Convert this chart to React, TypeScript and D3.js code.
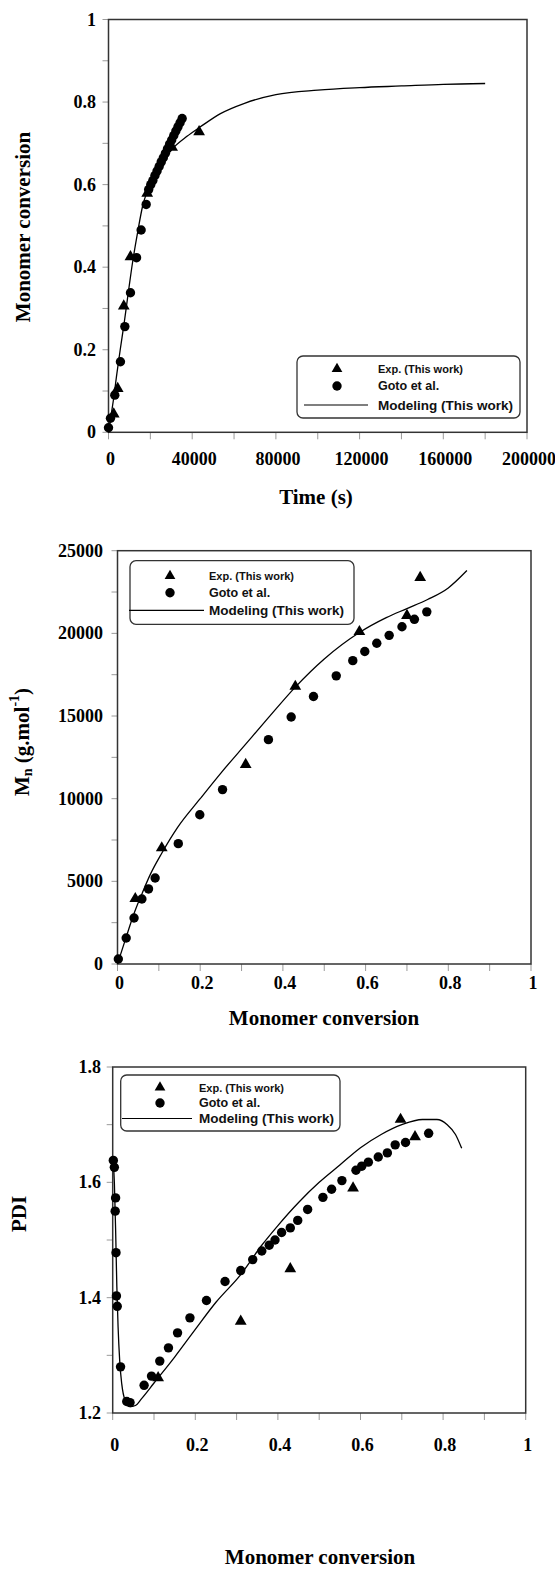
import React from 'react';
import * as d3 from 'd3';

type Pt = [number, number];

// ---- panel 1: conversion vs time ----
const timeExp: Pt[] = [
  [2500, 0.044], [4400, 0.106], [7300, 0.306], [10500, 0.425],
  [18500, 0.579], [30400, 0.69], [43300, 0.728],
];
const timeGoto: Pt[] = [
  [0, 0.011], [950, 0.034], [3000, 0.09], [5700, 0.171], [7800, 0.256],
  [10500, 0.338], [13400, 0.423], [15600, 0.49], [18000, 0.552],
  [19200, 0.588], [20200, 0.6], [21200, 0.61], [22200, 0.622], [23200, 0.633],
  [24200, 0.644], [25200, 0.655], [26200, 0.665], [27200, 0.676], [28200, 0.687],
  [29200, 0.698], [30200, 0.708], [31200, 0.719], [32200, 0.73], [33200, 0.74],
  [34200, 0.75], [35200, 0.76],
];
const timeModel: Pt[] = [
  [0, 0], [1200, 0.04], [2400, 0.08], [4000, 0.142], [5600, 0.2], [7500, 0.265],
  [9500, 0.34], [11600, 0.415], [14000, 0.487], [16400, 0.55], [18600, 0.585],
  [21600, 0.62], [25600, 0.653], [30400, 0.686], [37500, 0.717], [43900, 0.74],
  [53500, 0.772], [65000, 0.797], [80000, 0.818], [100000, 0.829], [120000, 0.835],
  [140000, 0.839], [160000, 0.843], [180000, 0.845],
];
const timeTicks = [0, 40000, 80000, 120000, 160000, 200000];
const convTicks = [0, 0.2, 0.4, 0.6, 0.8, 1];

// ---- panel 2: Mn vs conversion ----
const mnExp: Pt[] = [
  [0.043, 3950], [0.107, 7020], [0.31, 12060], [0.43, 16790],
  [0.585, 20100], [0.7, 21070], [0.732, 23380],
];
const mnGoto: Pt[] = [
  [0.002, 300], [0.021, 1570], [0.04, 2780], [0.059, 3930], [0.075, 4540],
  [0.091, 5200], [0.147, 7280], [0.199, 9030], [0.254, 10550], [0.365, 13570],
  [0.42, 14940], [0.474, 16180], [0.529, 17430], [0.569, 18350], [0.598, 18900],
  [0.627, 19400], [0.657, 19880], [0.688, 20400], [0.718, 20850], [0.748, 21300],
];
const mnModel: Pt[] = [
  [0, 0], [0.02, 1550], [0.04, 3050], [0.06, 4300], [0.08, 5450], [0.107, 6700],
  [0.145, 8250], [0.2, 10000], [0.25, 11550], [0.31, 13300], [0.365, 14900],
  [0.43, 16750], [0.5, 18450], [0.585, 20050], [0.65, 20950], [0.7, 21500],
  [0.75, 22050], [0.8, 22750], [0.845, 23800],
];
const mnTicks = [0, 5000, 10000, 15000, 20000, 25000];

// ---- panel 3: PDI vs conversion ----
const pdiExp: Pt[] = [
  [0.11, 1.261], [0.31, 1.359], [0.43, 1.45], [0.582, 1.59], [0.697, 1.709], [0.732, 1.679],
];
const pdiGoto: Pt[] = [
  [0.0015, 1.638], [0.004, 1.626], [0.007, 1.573], [0.006, 1.55], [0.008, 1.478],
  [0.009, 1.403], [0.011, 1.385], [0.019, 1.28], [0.034, 1.22], [0.042, 1.218],
  [0.076, 1.248], [0.094, 1.264], [0.114, 1.29], [0.135, 1.313], [0.157, 1.339],
  [0.187, 1.365], [0.227, 1.395], [0.272, 1.428], [0.31, 1.447], [0.339, 1.466],
  [0.361, 1.481], [0.379, 1.491], [0.393, 1.5], [0.409, 1.513], [0.43, 1.521],
  [0.448, 1.534], [0.472, 1.553], [0.509, 1.574], [0.53, 1.588], [0.555, 1.603],
  [0.589, 1.621], [0.603, 1.628], [0.619, 1.635], [0.643, 1.644], [0.665, 1.651],
  [0.684, 1.665], [0.709, 1.669], [0.765, 1.685],
];
const pdiModel: Pt[] = [
  [0.001, 1.64], [0.004, 1.6], [0.007, 1.52], [0.01, 1.42], [0.013, 1.35],
  [0.017, 1.29], [0.022, 1.25], [0.03, 1.222], [0.042, 1.211], [0.055, 1.213],
  [0.07, 1.225], [0.1, 1.252], [0.15, 1.297], [0.2, 1.345], [0.25, 1.392],
  [0.31, 1.44], [0.36, 1.49], [0.4, 1.525], [0.45, 1.565], [0.5, 1.6],
  [0.55, 1.63], [0.6, 1.66], [0.65, 1.683], [0.7, 1.7], [0.75, 1.709],
  [0.785, 1.709], [0.81, 1.7], [0.83, 1.683], [0.845, 1.659],
];
const pdiTicks = [1.2, 1.4, 1.6, 1.8];

const legendLabels = ['Exp. (This work)', 'Goto et al.', 'Modeling (This work)'];

const SERIF = '"Liberation Serif", "Times New Roman", serif';
const SANS = '"Liberation Sans", Arial, sans-serif';

const fmt = (v: number) => String(+v.toFixed(2));

interface Legend { x0: number; y0: number; x1: number; y1: number; rows: number[]; symX: number; lx0: number; lx1: number; tx: number; }

interface PanelProps {
  box: { l: number; r: number; t: number; b: number };
  xDomain: Pt; yDomain: Pt;
  xTicks: number[]; xMinor: number[]; yTicks: number[]; yMinor: number[];
  xLabY: number; yLabX: number;
  xTitle: string; xTitleX: number; xTitleY: number;
  yTitle: React.ReactNode; yTitleX: number; yTitleY: number;
  legend: Legend;
  exp: Pt[]; goto: Pt[]; model: Pt[];
}

const triPath = d3.symbol(d3.symbolTriangle, 60)()!;

function Panel(p: PanelProps) {
  const x = d3.scaleLinear().domain(p.xDomain).range([p.box.l, p.box.r]);
  const y = d3.scaleLinear().domain(p.yDomain).range([p.box.b, p.box.t]);
  const line = d3.line<Pt>().x(d => x(d[0])).y(d => y(d[1])).curve(d3.curveMonotoneX);
  const lg = p.legend;
  return (
    <g>
      {p.xMinor.map(v => (
        <line key={'xm' + v} x1={x(v)} x2={x(v)} y1={p.box.b} y2={p.box.b + 7} stroke="#9a9a9a" strokeWidth={1} />
      ))}
      {p.yMinor.map(v => (
        <line key={'ym' + v} x1={p.box.l - 6} x2={p.box.l} y1={y(v)} y2={y(v)} stroke="#9a9a9a" strokeWidth={1} />
      ))}
      <rect x={p.box.l} y={p.box.t} width={p.box.r - p.box.l} height={p.box.b - p.box.t}
        fill="none" stroke="#333" strokeWidth={1.5} />
      {p.xTicks.map(v => (
        <text key={'xt' + v} x={x(v) + 2} y={p.xLabY} textAnchor="middle" dominantBaseline="central"
          fontFamily={SERIF} fontWeight="bold" fontSize={18}>{fmt(v)}</text>
      ))}
      {p.yTicks.map(v => (
        <text key={'yt' + v} x={p.yLabX} y={y(v)} textAnchor="end" dominantBaseline="central"
          fontFamily={SERIF} fontWeight="bold" fontSize={18}>{fmt(v)}</text>
      ))}
      <text x={p.xTitleX} y={p.xTitleY} textAnchor="middle" dominantBaseline="central"
        fontFamily={SERIF} fontWeight="bold" fontSize={21}>{p.xTitle}</text>
      <text transform={`translate(${p.yTitleX},${p.yTitleY}) rotate(-90)`} textAnchor="middle" dominantBaseline="central"
        fontFamily={SERIF} fontWeight="bold" fontSize={21}>{p.yTitle}</text>

      <path d={line(p.model)!} fill="none" stroke="#000" strokeWidth={1.3} />
      {p.goto.map((d, i) => (
        <circle key={'g' + i} cx={x(d[0])} cy={y(d[1])} r={4.7} fill="#000" />
      ))}
      {p.exp.map((d, i) => (
        <path key={'e' + i} d={triPath} transform={`translate(${x(d[0])},${y(d[1])})`} fill="#000" />
      ))}

      <rect x={lg.x0} y={lg.y0} width={lg.x1 - lg.x0} height={lg.y1 - lg.y0} rx={6}
        fill="#fff" stroke="#333" strokeWidth={1.3} />
      <path d={d3.symbol(d3.symbolTriangle, 50)()!} transform={`translate(${lg.symX},${lg.rows[0]})`} fill="#000" />
      <circle cx={lg.symX} cy={lg.rows[1]} r={4.7} fill="#000" />
      <line x1={lg.lx0} x2={lg.lx1} y1={lg.rows[2]} y2={lg.rows[2]} stroke="#000" strokeWidth={1.2} />
      {legendLabels.map((t, i) => (
        <text key={t} x={lg.tx} y={lg.rows[i]} dominantBaseline="central" fontFamily={SANS}
          fontWeight="bold" fontSize={i === 0 ? 11 : i === 1 ? 12.5 : 13.5} fill="#111">{t}</text>
      ))}
    </g>
  );
}

export default function App() {
  const convMinor = d3.range(0, 1.0001, 0.1);
  return (
    <svg width={555} height={1573} style={{ position: 'absolute', left: 0, top: 0, background: '#fff' }}>
      <Panel
        box={{ l: 108.5, r: 527, t: 19.5, b: 432.3 }}
        xDomain={[0, 200000]} yDomain={[0, 1]}
        xTicks={timeTicks} xMinor={d3.range(0, 200001, 20000)}
        yTicks={convTicks} yMinor={convMinor}
        xLabY={459} yLabX={96}
        xTitle="Time (s)" xTitleX={316} xTitleY={497}
        yTitle="Monomer conversion" yTitleX={23} yTitleY={227}
        legend={{ x0: 297, y0: 356, x1: 520, y1: 418, rows: [369, 386, 405], symX: 337, lx0: 304, lx1: 368, tx: 378 }}
        exp={timeExp} goto={timeGoto} model={timeModel}
      />
      <Panel
        box={{ l: 117.5, r: 531, t: 550.7, b: 964 }}
        xDomain={[0, 1]} yDomain={[0, 25000]}
        xTicks={convTicks} xMinor={convMinor}
        yTicks={mnTicks} yMinor={d3.range(0, 25001, 2500)}
        xLabY={983} yLabX={103}
        xTitle="Monomer conversion" xTitleX={324} xTitleY={1018}
        yTitle={<>
          <tspan>M</tspan>
          <tspan dy={5} fontSize={14}>n</tspan>
          <tspan dy={-5}> (g.mol</tspan>
          <tspan dy={-8} fontSize={14}>-1</tspan>
          <tspan dy={8}>)</tspan>
        </>}
        yTitleX={22} yTitleY={742}
        legend={{ x0: 130, y0: 560.7, x1: 354, y1: 624.3, rows: [576, 592.7, 610.3], symX: 170, lx0: 129, lx1: 204, tx: 209 }}
        exp={mnExp} goto={mnGoto} model={mnModel}
      />
      <Panel
        box={{ l: 112.7, r: 525.7, t: 1067, b: 1413 }}
        xDomain={[0, 1]} yDomain={[1.2, 1.8]}
        xTicks={convTicks} xMinor={convMinor}
        yTicks={pdiTicks} yMinor={d3.range(1.2, 1.8001, 0.1)}
        xLabY={1445} yLabX={101}
        xTitle="Monomer conversion" xTitleX={320} xTitleY={1557}
        yTitle="PDI" yTitleX={19} yTitleY={1214}
        legend={{ x0: 120.7, y0: 1075, x1: 340, y1: 1131, rows: [1087.5, 1103, 1118.5], symX: 160, lx0: 122, lx1: 192, tx: 199 }}
        exp={pdiExp} goto={pdiGoto} model={pdiModel}
      />
    </svg>
  );
}
